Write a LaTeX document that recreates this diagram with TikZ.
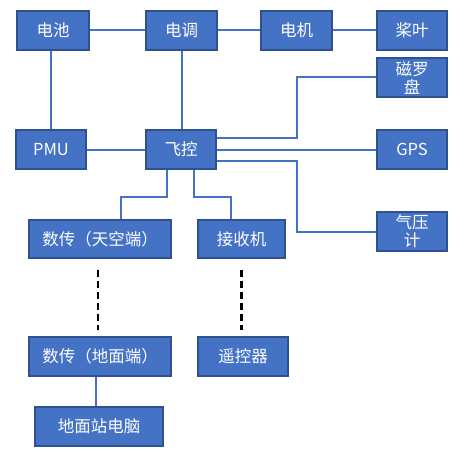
\documentclass[tikz,border=0pt]{standalone}
\usepackage{fontspec}
\setmainfont{Noto Sans CJK SC}
\definecolor{boxfill}{HTML}{4472C4}
\definecolor{boxline}{HTML}{2F528F}
\definecolor{conn}{HTML}{4472C4}
\begin{document}
\begin{tikzpicture}[x=1pt,y=-1pt,
  box/.style={draw=boxline,fill=boxfill,line width=1.3pt,text=white,inner sep=0pt,
    minimum height=39pt,align=center,font=\fontsize{16.5}{18}\selectfont},
  link/.style={draw=conn,line width=2pt},
  radiolink/.style={draw=black,line width=2.4pt,dash pattern=on 7pt off 4pt}]
\useasboundingbox[fill=white] (0,0) rectangle (466,452);
\node[box,minimum width=72pt] (dc) at (53,30.5) {电池};
\node[box,minimum width=71pt] (dt) at (181.5,30.5) {电调};
\node[box,minimum width=71pt] (dj) at (296.5,30.5) {电机};
\node[box,minimum width=70pt] (jy) at (412,30.5) {桨叶};
\node[box,minimum width=70pt] (cl) at (412,77.5) {磁罗\\盘};
\node[box,minimum width=70pt] (pmu) at (51,149.5) {PMU};
\node[box,minimum width=70pt] (fk) at (181,149.5) {飞控};
\node[box,minimum width=70pt] (gps) at (412,149.5) {GPS};
\node[box,minimum width=70pt] (qy) at (412,231.5) {气压\\计};
\node[box,minimum width=142pt,minimum height=38pt] (ssky) at (100,239) {数传（天空端）};
\node[box,minimum width=87pt,minimum height=38pt] (jsj) at (241.5,239) {接收机};
\node[box,minimum width=142pt] (sgnd) at (100,356.5) {数传（地面端）};
\node[box,minimum width=90pt] (yk) at (243,356.5) {遥控器};
\node[box,minimum width=128pt] (dmz) at (99,426.5) {地面站电脑};

\draw[link] (dc.east) -- (dt.west);
\draw[link] (dt.east) -- (dj.west);
\draw[link] (dj.east) -- (jy.west);
\draw[link] ([xshift=-2pt]dc.south) -- (pmu.north);
\draw[link] (dt.south) -- ([xshift=0.5pt]fk.north);
\draw[link] (pmu.east) -- (fk.west);
\draw[link] (fk.east) -- (gps.west);
\draw[link] ([yshift=11.5pt]fk.east) -- ++(80,0) |- (cl.west);
\draw[link] ([yshift=-11.5pt]fk.east) -- ++(80,0) |- (qy.west);
\draw[link] ([xshift=-14pt]fk.south) -- ++(0,27) -| ([xshift=21pt]ssky.north);
\draw[link] ([xshift=13pt]fk.south) -- ++(0,27) -| ([xshift=-10.5pt]jsj.north);
\draw[link] ([xshift=-4pt]sgnd.south) -- ([xshift=-3pt]dmz.north);
\draw[radiolink] ([shift={(-2,11)}]ssky.south) -- ([shift={(-2,-6)}]sgnd.north);
\draw[radiolink] ([shift={(0,11)}]jsj.south) -- ([shift={(-1.5,-6)}]yk.north);
\end{tikzpicture}
\end{document}
